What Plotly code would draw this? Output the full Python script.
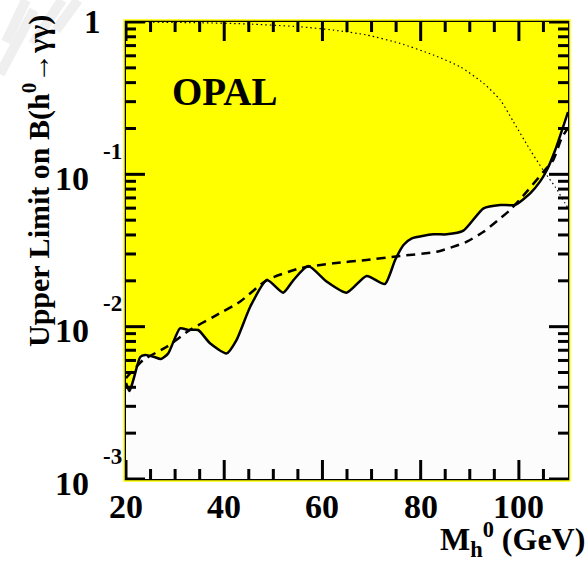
import math
import plotly.graph_objects as go

# Higgs mass (GeV) and 95% CL upper limits on B(h0 -> gamma gamma)
mass_obs = [20, 20.7, 21.5, 22.9, 23.9, 25.6, 27.1, 28.6, 31.0, 32.7, 34.7, 37.1,
            40.5, 42.5, 45.3, 48.7, 52.0, 54.1, 57.1, 60.9, 64.9, 69.0, 72.7, 74.8,
            76.5, 78.2, 82.6, 85.3, 88.7, 92.8, 96.2, 99.2, 102.3, 104.3, 105.7, 107.4, 110]
limit_obs = [0.00427, 0.00378, 0.00447, 0.00632, 0.00652, 0.00635, 0.00614, 0.00668,
             0.00975, 0.00951, 0.00951, 0.00778, 0.00668, 0.00817, 0.01352, 0.02023,
             0.01671, 0.02023, 0.0250, 0.01972, 0.01671, 0.02153, 0.01905, 0.02742,
             0.03436, 0.03802, 0.04036, 0.04036, 0.04266, 0.05984, 0.06295, 0.06295,
             0.07499, 0.08954, 0.1067, 0.1445, 0.2564]

mass_exp = [20, 21.2, 23.5, 28.3, 33.0, 37.8, 43.2, 48.7, 55.4, 62.2, 69.0, 75.8,
            83.3, 86.7, 89.4, 92.8, 96.2, 98.2, 101.6, 105.0, 107.0, 108.7, 110]
limit_exp = [0.00460, 0.00506, 0.00604, 0.00738, 0.00951, 0.01161, 0.01459, 0.02023,
             0.02415, 0.02606, 0.02742, 0.02911, 0.03105, 0.03350, 0.03614, 0.04198,
             0.05140, 0.05834, 0.07691, 0.1040, 0.1242, 0.1726, 0.2014]

mass_th = [20, 35.1, 44.6, 55.4, 62.2, 69.0, 75.8, 82.6, 88.0, 92.8, 96.2, 98.9,
           102.3, 105.0, 107.4, 109.4, 110]
br_th = [1.0, 0.989, 0.971, 0.931, 0.885, 0.822, 0.724, 0.607, 0.509, 0.396, 0.308,
         0.221, 0.1445, 0.1059, 0.0826, 0.0646, 0.0601]

x_range = [20, 110]
x_major = [20, 40, 60, 80, 100]
x_minor = [25, 30, 35, 45, 50, 55, 65, 70, 75, 85, 90, 95, 105]
y_decades = [0, -1, -2, -3]
y_minor_digits = [2, 3, 4, 5, 6, 7, 8, 9]

FONT = "Liberation Serif"
W, H = 588, 573
L, R, T, B = 126, 20, 22, 94
PW, PH = W - L - R, H - T - B
Y_LO, Y_HI = -3, 0
MAJOR_LEN, MINOR_LEN = 19, 10
TICK_STYLE = dict(color="black", width=3)

# data units per pixel along each axis
X_PER_PX = (x_range[1] - x_range[0]) / PW
LOG_PER_PX = (Y_HI - Y_LO) / PH


def px_x(p):
    return (p - L) / PW


def px_y(p):
    return (H - B - p) / PH


fig = go.Figure()

# upper edge of the excluded band (B = 1)
fig.add_trace(go.Scatter(x=x_range, y=[1, 1], mode="lines",
                         line=dict(width=0, color="rgba(0,0,0,0)"),
                         showlegend=False, hoverinfo="skip"))
# observed limit, excluded region filled above it
fig.add_trace(go.Scatter(x=mass_obs, y=limit_obs, mode="lines",
                         line=dict(color="black", width=2.5, shape="spline", smoothing=0.6),
                         fill="tonexty", fillcolor="#ffff00", showlegend=False))
# expected limit
fig.add_trace(go.Scatter(x=mass_exp, y=limit_exp, mode="lines",
                         line=dict(color="black", width=2.5, dash="9px,6px",
                                   shape="spline", smoothing=0.6),
                         showlegend=False))
# predicted branching ratio
fig.add_trace(go.Scatter(x=mass_th, y=br_th, mode="lines",
                         line=dict(color="black", width=1.2, dash="1.5px,3px",
                                   shape="spline", smoothing=0.6),
                         showlegend=False))


def tick(xs, ys):
    fig.add_trace(go.Scatter(x=xs, y=ys, mode="lines", line=TICK_STYLE,
                             showlegend=False, hoverinfo="skip"))


# inward tick marks on bottom/top edges
for vals, ln in ((x_major, MAJOR_LEN), (x_minor, MINOR_LEN)):
    for m in vals:
        tick([m, m], [10 ** Y_LO, 10 ** (Y_LO + ln * LOG_PER_PX)])
        tick([m, m], [10 ** Y_HI, 10 ** (Y_HI - ln * LOG_PER_PX)])

# inward tick marks on left/right edges (log scale)
y_ticks = [(d, MAJOR_LEN) for d in y_decades]
for d in y_decades[1:]:
    for k in y_minor_digits:
        y_ticks.append((d + math.log10(k), MINOR_LEN))
for lv, ln in y_ticks:
    v = 10 ** lv
    tick([x_range[0], x_range[0] + ln * X_PER_PX], [v, v])
    tick([x_range[1], x_range[1] - ln * X_PER_PX], [v, v])

ann = []
# y tick labels in 10^n form
for d in y_decades:
    if d == 0:
        ann.append(dict(x=px_x(92), xref="paper", y=d, yref="y", text="1",
                        showarrow=False, xanchor="center", yanchor="middle",
                        font=dict(family=FONT, size=33, color="black", weight="bold")))
    else:
        ann.append(dict(x=px_x(91), xref="paper", y=d, yref="y", text="10",
                        showarrow=False, xanchor="right", yanchor="middle", yshift=-4,
                        font=dict(family=FONT, size=34, color="black", weight="bold")))
        ann.append(dict(x=px_x(112), xref="paper", y=d, yref="y", text=str(d),
                        showarrow=False, xanchor="center", yanchor="middle", yshift=23,
                        font=dict(family=FONT, size=23, color="black", weight="bold")))
# x tick labels
for m in x_major:
    ann.append(dict(x=m, xref="x", y=px_y(506), yref="paper", text=str(m),
                    showarrow=False, xanchor="center", yanchor="middle",
                    font=dict(family=FONT, size=34, color="black", weight="bold")))

ann.append(dict(x=px_x(224), xref="paper", y=px_y(91), yref="paper", text="OPAL",
                showarrow=False, xanchor="center", yanchor="middle",
                font=dict(family=FONT, size=39, color="black", weight="bold")))
ann.append(dict(x=px_x(587), xref="paper", y=px_y(539), yref="paper",
                text="M<sub>h</sub><sup>0</sup> (GeV)",
                showarrow=False, xanchor="right", yanchor="middle",
                font=dict(family=FONT, size=32, color="black", weight="bold")))
ann.append(dict(x=px_x(36), xref="paper", y=px_y(349), yref="paper",
                text="Upper Limit on B(h<sup>0</sup>\u2192\u03b3\u03b3)", textangle=-90,
                showarrow=False, xanchor="center", yanchor="bottom",
                font=dict(family=FONT, size=30, color="black", weight="bold")))

shapes = [
    # thin yellow rim just outside the frame
    dict(type="rect", xref="paper", yref="paper",
         x0=px_x(L - 2), x1=px_x(W - R + 2), y0=px_y(H - B + 2), y1=px_y(T - 2),
         line=dict(color="#ffff00", width=1.5), layer="above"),
]
# faint stamp strokes in the upper-left corner
for (x0, y0, x1, y1) in [(0, 74, 34, 10), (6, 42, 26, 0), (33, 44, 62, 0), (56, 30, 78, 0)]:
    shapes.append(dict(type="line", xref="paper", yref="paper",
                       x0=px_x(x0), y0=px_y(y0), x1=px_x(x1), y1=px_y(y1),
                       line=dict(color="rgba(236,236,236,0.85)", width=10), layer="above"))

fig.update_layout(
    width=W, height=H,
    margin=dict(l=L, r=R, t=T, b=B, pad=0),
    paper_bgcolor="white", plot_bgcolor="#fcfcfc",
    showlegend=False,
    annotations=ann, shapes=shapes,
    xaxis=dict(range=x_range, showticklabels=False, ticks="",
               showline=True, linewidth=2, linecolor="black", mirror=True,
               showgrid=False, zeroline=False),
    yaxis=dict(type="log", range=[Y_LO, Y_HI], showticklabels=False, ticks="",
               showline=True, linewidth=2, linecolor="black", mirror=True,
               showgrid=False, zeroline=False),
)

fig.write_html("out.html")
